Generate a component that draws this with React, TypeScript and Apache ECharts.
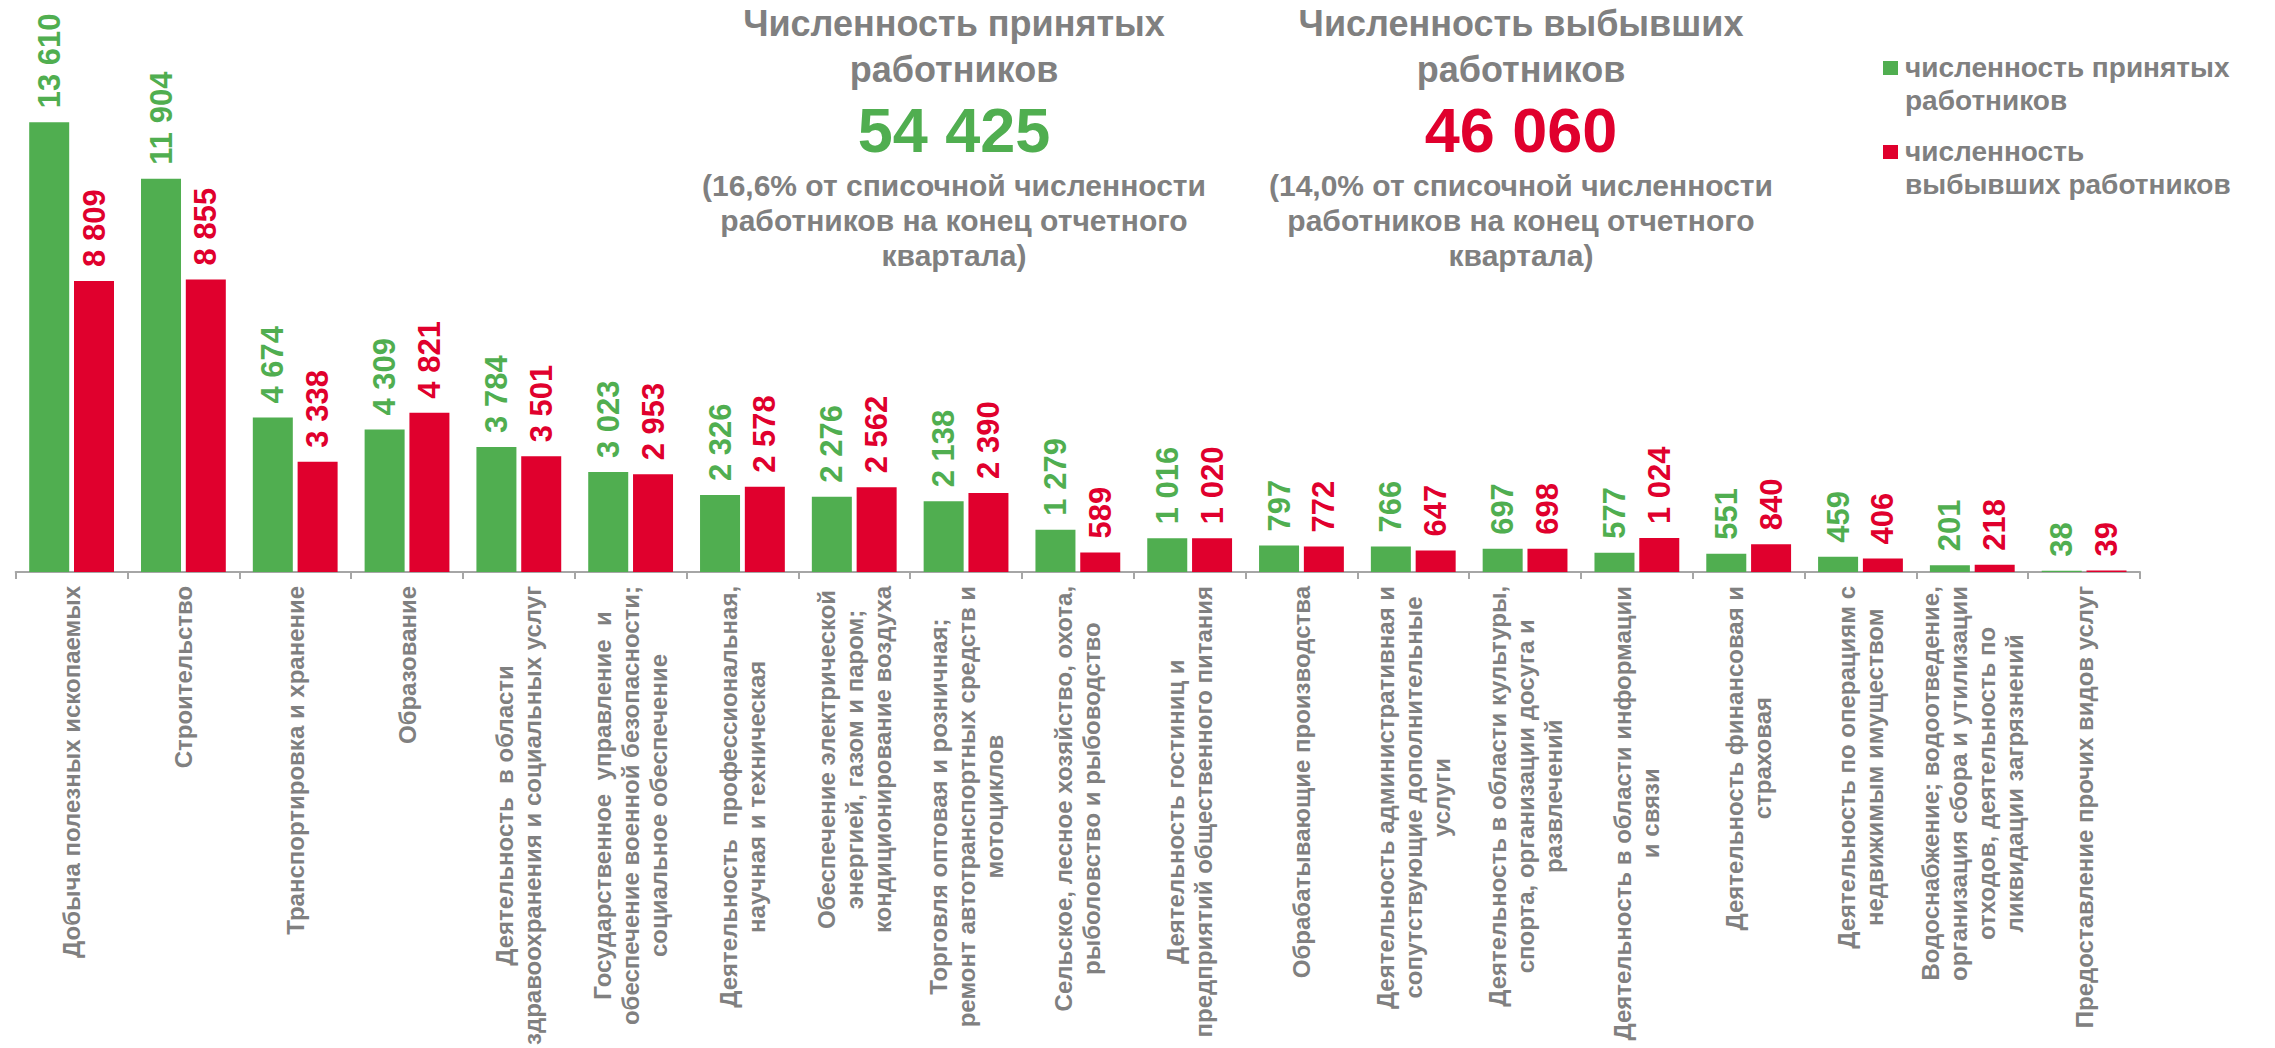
import React, { useEffect, useRef } from 'react';
import * as echarts from 'echarts';

const categories: string[] = [
  'Добыча полезных ископаемых',
  'Строительство',
  'Транспортировка и хранение',
  'Образование',
  'Деятельность  в области\nздравоохранения и социальных услуг',
  'Государственное  управление  и\nобеспечение военной безопасности;\nсоциальное обеспечение',
  'Деятельность  профессиональная,\nнаучная и техническая',
  'Обеспечение электрической\nэнергией, газом и паром;\nкондиционирование воздуха',
  'Торговля оптовая и розничная;\nремонт автотранспортных средств и\nмотоциклов',
  'Сельское, лесное хозяйство, охота,\nрыболовство и рыбоводство',
  'Деятельность гостиниц и\nпредприятий общественного питания',
  'Обрабатывающие производства',
  'Деятельность административная и\nсопутствующие дополнительные\nуслуги',
  'Деятельность в области культуры,\nспорта, организации досуга и\nразвлечений',
  'Деятельность в области информации\nи связи',
  'Деятельность финансовая и\nстраховая',
  'Деятельность по операциям с\nнедвижимым имуществом',
  'Водоснабжение; водоотведение,\nорганизация сбора и утилизации\nотходов, деятельность по\nликвидации загрязнений',
  'Предоставление прочих видов услуг',
];

const hiredValues: number[] = [13610, 11904, 4674, 4309, 3784, 3023, 2326, 2276, 2138, 1279, 1016, 797, 766, 697, 577, 551, 459, 201, 38];
const leftValues: number[] = [8809, 8855, 3338, 4821, 3501, 2953, 2578, 2562, 2390, 589, 1020, 772, 647, 698, 1024, 840, 406, 218, 39];

const seriesNames: string[] = ['численность принятых работников', 'численность выбывших работников'];
const legendLines: string[][] = [
  ['численность принятых', 'работников'],
  ['численность', 'выбывших работников'],
];

const totalHired = 54425;
const totalLeft = 46060;
const titleHiredLines: string[] = ['Численность принятых', 'работников'];
const titleLeftLines: string[] = ['Численность выбывших', 'работников'];
const noteHiredLines: string[] = ['(16,6% от списочной численности', 'работников на конец отчетного', 'квартала)'];
const noteLeftLines: string[] = ['(14,0% от списочной численности', 'работников на конец отчетного', 'квартала)'];

const GREEN = '#50AE50';
const RED = '#E0002D';
const GRAY = '#808080';
const AXIS_GRAY = '#A6A6A6';
const FONT = "'Liberation Sans', Arial, Helvetica, sans-serif";

const fmt = (n: number): string => String(n).replace(/\B(?=(\d{3})+(?!\d))/g, ' ');

function textEl(x: number, y: number, text: string, size: number, color: string, align: string = 'center') {
  return {
    type: 'text',
    x,
    y,
    silent: true,
    style: {
      text,
      fill: color,
      fontSize: size,
      fontWeight: 'bold',
      fontFamily: FONT,
      align,
      verticalAlign: 'middle',
    },
  };
}

function titleBlock(cx: number, head: string[], total: number, color: string, note: string[]) {
  const els: any[] = [];
  const headY = [23, 69];
  head.forEach((l, i) => els.push(textEl(cx, headY[i], l, 36, GRAY)));
  els.push(textEl(cx, 130, fmt(total), 63, color));
  const noteY = [185, 220, 255];
  note.forEach((l, i) => els.push(textEl(cx, noteY[i], l, 30, GRAY)));
  return els;
}

function legendBlock() {
  const els: any[] = [];
  const colors = [GREEN, RED];
  const tops = [61, 145];
  legendLines.forEach((lines, i) => {
    els.push({
      type: 'rect',
      silent: true,
      shape: { x: 1883, y: tops[i], width: 15, height: 14 },
      style: { fill: colors[i] },
    });
    lines.forEach((l, j) => {
      els.push(textEl(1905, tops[i] + 6 + j * 33, l, 28, GRAY, 'left'));
    });
  });
  return els;
}

export default function App() {
  const ref = useRef<HTMLDivElement>(null);

  useEffect(() => {
    if (!ref.current) return;
    const chart = echarts.init(ref.current, null, { renderer: 'svg' });

    const labelStyle = (color: string) => ({
      show: true,
      position: 'top',
      rotate: 90,
      align: 'left',
      verticalAlign: 'middle',
      distance: 14,
      fontSize: 31,
      fontWeight: 'bold',
      fontFamily: FONT,
      color,
      formatter: (p: any) => fmt(p.value),
    });

    chart.setOption({
      animation: false,
      backgroundColor: '#ffffff',
      textStyle: { fontFamily: FONT },
      grid: { left: 15.7, right: 135, top: 43.4, bottom: 474, containLabel: false },
      xAxis: {
        type: 'category',
        data: categories,
        boundaryGap: true,
        axisLine: { show: true, lineStyle: { color: AXIS_GRAY, width: 2 } },
        axisTick: { show: true, interval: 0, length: 7, alignWithLabel: false, lineStyle: { color: AXIS_GRAY, width: 2 } },
        axisLabel: {
          interval: 0,
          rotate: 90,
          margin: 14,
          fontSize: 24,
          fontWeight: 'bold',
          fontFamily: FONT,
          color: GRAY,
          lineHeight: 28,
          formatter: (v: string) => v.split('\n').map((l) => '{c|' + l + '}').join('\n'),
          rich: {
            c: {
              align: 'center',
              fontSize: 24,
              fontWeight: 'bold',
              fontFamily: FONT,
              color: GRAY,
              lineHeight: 28,
            },
          },
        },
      },
      yAxis: { type: 'value', min: 0, max: 16000, show: false },
      series: [
        {
          name: seriesNames[0],
          type: 'bar',
          data: hiredValues,
          barWidth: 40,
          barGap: '12%',
          itemStyle: { color: GREEN },
          label: labelStyle(GREEN),
        },
        {
          name: seriesNames[1],
          type: 'bar',
          data: leftValues,
          barWidth: 40,
          barGap: '12%',
          itemStyle: { color: RED },
          label: labelStyle(RED),
        },
      ],
      graphic: [
        ...titleBlock(954, titleHiredLines, totalHired, GREEN, noteHiredLines),
        ...titleBlock(1521, titleLeftLines, totalLeft, RED, noteLeftLines),
        ...legendBlock(),
      ],
    });

    return () => chart.dispose();
  }, []);

  return (
    <div
      ref={ref}
      style={{ position: 'absolute', left: 0, top: 0, width: 2275, height: 1048, background: '#ffffff' }}
    />
  );
}
